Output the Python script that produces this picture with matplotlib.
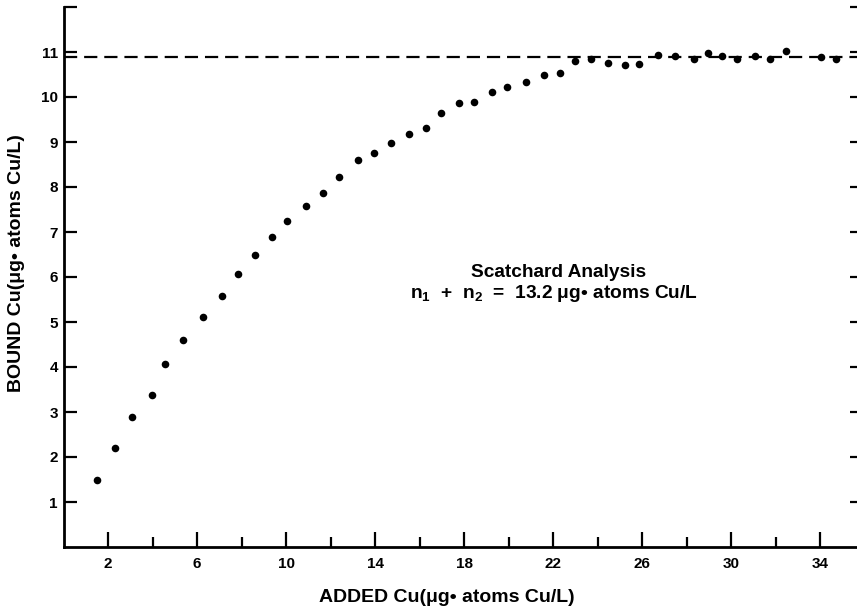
import matplotlib
matplotlib.use("Agg")
import matplotlib.pyplot as plt
from matplotlib.ticker import FixedLocator

plt.rcParams['font.family'] = ['Liberation Sans', 'DejaVu Sans']
plt.rcParams['font.weight'] = 'bold'
plt.rcParams['mathtext.fontset'] = 'custom'
plt.rcParams['mathtext.rm'] = 'Liberation Sans:bold'
plt.rcParams['mathtext.it'] = 'Liberation Sans:bold'
plt.rcParams['mathtext.bf'] = 'Liberation Sans:bold'
plt.rcParams['lines.scale_dashes'] = False

# Data
added_cu = [1.52, 2.31, 3.09, 3.97, 4.58, 5.37, 6.26, 7.12, 7.84, 8.59,
            9.36, 10.03, 10.90, 11.65, 12.40, 13.22, 13.96, 14.73, 15.53, 16.29,
            16.95, 17.79, 18.46, 19.24, 19.95, 20.77, 21.58, 22.33, 22.99, 23.72,
            24.47, 25.25, 25.88, 26.72, 27.47, 28.34, 28.97, 29.61, 30.25, 31.07,
            31.75, 32.47, 34.03, 34.70]
bound_cu = [1.49, 2.20, 2.90, 3.37, 4.07, 4.59, 5.12, 5.58, 6.06, 6.49,
            6.88, 7.24, 7.58, 7.87, 8.22, 8.59, 8.75, 8.98, 9.18, 9.32,
            9.65, 9.87, 9.90, 10.11, 10.22, 10.34, 10.50, 10.53, 10.79, 10.84,
            10.76, 10.71, 10.73, 10.94, 10.91, 10.84, 10.98, 10.91, 10.85, 10.92,
            10.84, 11.02, 10.90, 10.84]
plateau = 10.9

x_major = [2, 6, 10, 14, 18, 22, 26, 30, 34]
x_minor = [4, 8, 12, 16, 20, 24, 28, 32]
y_ticks = [1, 2, 3, 4, 5, 6, 7, 8, 9, 10, 11, 12]
y_labels = ['1', '2', '3', '4', '5', '6', '7', '8', '9', '10', '11', '']

fig = plt.figure(figsize=(8.57, 6.09), dpi=100)
ax = fig.add_axes([63.5 / 857, 1 - 547 / 609, 1 - 63.5 / 857, (547 - 7) / 609])

ax.scatter(added_cu, bound_cu, s=30, color='black', zorder=3, linewidths=0)
ax.axhline(plateau, color='black', lw=1.6, dashes=(9.5, 5), zorder=2)

ax.set_xlim(0, 35.66)
ax.set_ylim(0, 12)

ax.spines['top'].set_visible(False)
ax.spines['right'].set_visible(False)
ax.spines['left'].set_linewidth(2.0)
ax.spines['bottom'].set_linewidth(2.0)

ax.xaxis.set_major_locator(FixedLocator(x_major))
ax.xaxis.set_minor_locator(FixedLocator(x_minor))
ax.set_xticklabels([str(v) for v in x_major])
ax.tick_params(axis='x', which='major', direction='in', length=11, width=1.6,
               labelsize=11, pad=7)
ax.tick_params(axis='x', which='minor', direction='in', length=7.5, width=1.6)

ax.yaxis.set_major_locator(FixedLocator(y_ticks))
ax.yaxis.set_minor_locator(FixedLocator(y_ticks))
ax.yaxis.remove_overlapping_locs = False
ax.set_yticklabels(y_labels)
ax.tick_params(axis='y', which='major', direction='in', length=9, width=1.6,
               labelsize=11, pad=4, left=True, right=False)
ax.tick_params(axis='y', which='minor', direction='in', length=5, width=1.6,
               left=False, right=True)

ax.set_xlabel('ADDED Cu(μg• atoms Cu/L)', fontsize=14, fontweight='bold')
ax.set_ylabel('BOUND Cu(μg• atoms Cu/L)', fontsize=14, fontweight='bold')
ax.xaxis.set_label_coords(0.483, -0.078)
ax.yaxis.set_label_coords(-0.0485, 0.526)

ax.text(22.27, 6.0, 'Scatchard Analysis', ha='center', va='baseline',
        fontsize=13.8, fontweight='bold')
ax.text(22.04, 5.53, r'n$_1$  +  n$_2$  =  13.2 μg• atoms Cu/L', ha='center',
        va='baseline', fontsize=13.8, fontweight='bold')

fig.savefig('out.png', dpi=100)
